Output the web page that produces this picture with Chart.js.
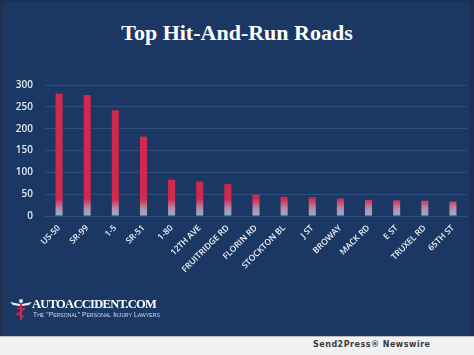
<!DOCTYPE html>
<html><head><meta charset="utf-8">
<script src="https://cdn.jsdelivr.net/npm/chart.js@4"></script>
<style>
html,body{margin:0;padding:0;}
body{width:474px;height:355px;position:relative;overflow:hidden;background:#f1f1f1;font-family:"Open Sans",sans-serif;}
#panel{position:absolute;left:0;top:0;width:474px;height:336px;background:#1b3764;}
#frameL{position:absolute;left:0;top:0;width:3px;height:336px;background:#1e2f52;}
#frameR{position:absolute;right:0;top:0;width:4px;height:336px;background:#1d2e50;}
#frameT{position:absolute;left:0;top:0;width:474px;height:2px;background:#1e2f52;}
#title{position:absolute;left:0;top:20px;width:474px;text-align:center;color:#fff;font-family:"Liberation Serif",serif;font-weight:bold;font-size:22px;letter-spacing:0px;}
#wrap{position:absolute;left:0;top:0;width:474px;height:336px;}
#logo{position:absolute;left:32px;top:298px;color:#fff;font-family:"Liberation Serif",serif;font-weight:bold;font-size:12.5px;letter-spacing:-0.7px;line-height:13px;}
#sub{position:absolute;left:33px;top:311px;color:#d8dce8;font-family:"Liberation Sans",sans-serif;font-size:6.6px;letter-spacing:0.1px;font-variant:small-caps;white-space:nowrap;}
#icon{position:absolute;left:8px;top:296px;}
#strip{position:absolute;left:0;top:336px;width:474px;height:19px;background:#f1f1f1;border-top:1px solid #b9bcc4;}
#s2p{position:absolute;left:313px;top:340px;font-family:"DejaVu Sans",sans-serif;font-weight:bold;font-size:8px;letter-spacing:0.5px;color:#3a3a3a;}
</style></head>
<body>
<div id="panel"></div>
<div id="frameL"></div><div id="frameR"></div><div id="frameT"></div>
<div id="title">Top Hit-And-Run Roads</div>
<div id="wrap"><canvas id="c" width="474" height="336"></canvas></div>
<svg id="icon" width="26" height="26" viewBox="0 0 26 26">
  <path d="M2 6 L12 8 L12 10 L5 9 Z" fill="#e8eaf0"/>
  <path d="M24 6 L14 8 L14 10 L21 9 Z" fill="#e8eaf0"/>
  <circle cx="13" cy="5" r="2" fill="#e8eaf0"/>
  <rect x="12" y="7" width="2" height="17" fill="#c8284f"/>
  <path d="M9 12 Q13 14 17 12 Q13 16 9 18 Q13 20 16 21" stroke="#c8284f" stroke-width="1.5" fill="none"/>
</svg>
<div id="logo">AUTOACCIDENT.COM</div>
<div id="sub">The "Personal" Personal Injury Lawyers</div>
<div id="strip"></div>
<div id="s2p">Send2Press® Newswire</div>
<script>
const roads = ["US-50","SR-99","1-5","SR-51","1-80","12TH AVE","FRUITRIDGE RD","FLORIN RD","STOCKTON BL","J ST","BROWAY","MACK RD","E ST","TRUXEL RD","65TH ST"];
const accidents = [280,277,242,182,83,79,73,49,44,43,40,37,36,35,33];
const yTicks = [0,50,100,150,200,250,300];

function barFill(ctx){
  const chart = ctx.chart;
  const a = chart.chartArea;
  if(!a) return '#d0284f';
  const g = chart.ctx.createLinearGradient(0, a.bottom, 0, a.bottom - 17);
  g.addColorStop(0, '#8fb1dc');
  g.addColorStop(0.45, '#b88aa6');
  g.addColorStop(1, '#d0284f');
  return g;
}

new Chart(document.getElementById('c'), {
  type: 'bar',
  data: {
    labels: roads,
    datasets: [{ data: accidents, backgroundColor: barFill, borderWidth: 0,
      barPercentage: 0.25, categoryPercentage: 1 }]
  },
  options: {
    responsive: false,
    animation: false,
    layout: { padding: { top: 85, right: 7, bottom: 0, left: 0 } },
    plugins: { legend: { display: false }, tooltip: { enabled: false } },
    scales: {
      y: {
        min: 0, max: 300,
        afterFit: s => { s.width = 45; },
        afterBuildTicks: s => { s.ticks = yTicks.map(v => ({ value: v })); },
        grid: { color: '#2f4e7e', lineWidth: 1, drawTicks: false },
        border: { display: false },
        ticks: { color: '#e4e8f0', padding: 12, font: { family: 'Open Sans', size: 10, weight: '600' } }
      },
      x: {
        afterFit: s => { s.height = 120; },
        grid: { display: false, drawTicks: false },
        border: { display: true, color: '#2f4e7e' },
        ticks: { color: '#eef1f6', minRotation: 45, maxRotation: 45, padding: 7, autoSkip: false,
          font: { family: 'Open Sans', size: 8.5, weight: '600' } }
      }
    }
  }
});
</script>
</body></html>
